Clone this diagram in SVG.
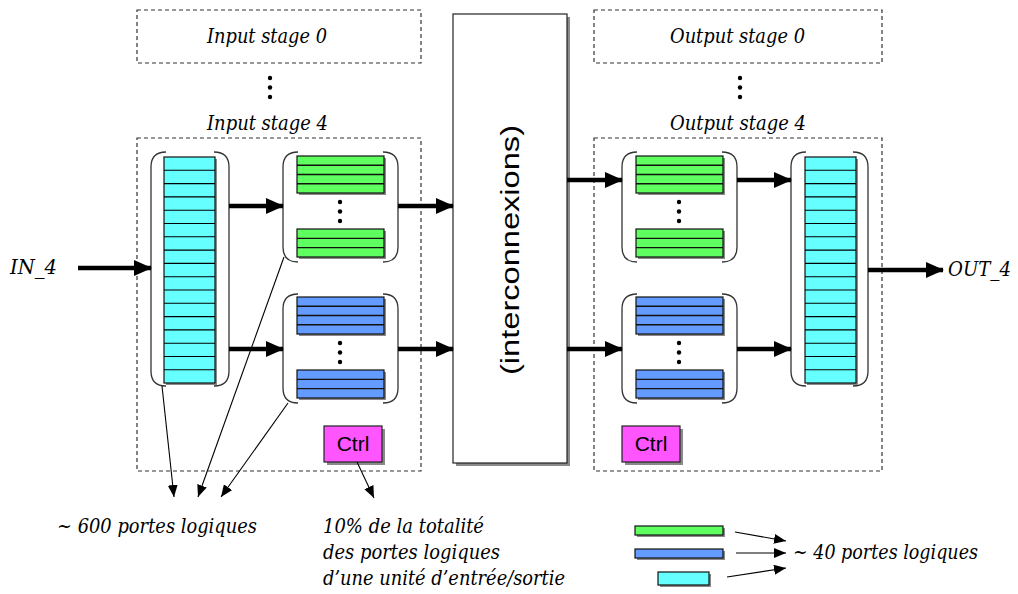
<svg xmlns="http://www.w3.org/2000/svg" width="1018" height="594" viewBox="0 0 1018 594">
<style>
.dash{fill:none;stroke:#333;stroke-width:1.2;stroke-dasharray:4,3}
.lbl{font-family:'DejaVu Serif',serif;font-size:20px;fill:#000;font-style:italic}
.br{fill:none;stroke:#333;stroke-width:1.3}
.cy{fill:#66ffff;stroke:#111;stroke-width:1.2}
.gr{fill:#5fff5f;stroke:#111;stroke-width:1.2}
.bl{fill:#649bff;stroke:#111;stroke-width:1.2}
.sh{fill:#8a8a8a}
.thick{stroke:#000;stroke-width:4.5;fill:none}
.thin{stroke:#000;stroke-width:1.1;fill:none}
.ctrl{fill:#ff55ff;stroke:#222;stroke-width:1.2}
.ct{font-family:'Liberation Sans',Arial,sans-serif;font-size:21px;fill:#000;text-anchor:middle}
.dot{fill:#000}
</style>
<defs>
<marker id="big" markerUnits="userSpaceOnUse" markerWidth="18" markerHeight="16" refX="17" refY="8" orient="auto"><path d="M0,0 L18,8 L0,16 Z" fill="#000"/></marker>
<marker id="sm" markerUnits="userSpaceOnUse" markerWidth="12" markerHeight="10" refX="12" refY="5" orient="auto"><path d="M0,0 L12,5 L0,10 Z" fill="#000"/></marker>
<g id="cystack">
<rect class="sh" x="2" y="2" width="51" height="226"/>
<rect class="cy" x="0" y="0" width="51" height="226"/>
<path class="thin" d="M0,13.3H51M0,26.6H51M0,39.9H51M0,53.2H51M0,66.5H51M0,79.8H51M0,93.1H51M0,106.4H51M0,119.7H51M0,133H51M0,146.3H51M0,159.6H51M0,172.9H51M0,186.2H51M0,199.5H51M0,212.8H51" stroke-width="1.4"/>
</g>
<g id="four">
<rect class="sh" x="2" y="2" width="87" height="37"/>
<rect x="0" y="0" width="87" height="37" stroke="#111" stroke-width="1.2"/>
<path d="M0,9.25H87M0,18.5H87M0,27.75H87" stroke="#111" stroke-width="1.4"/>
</g>
<g id="three">
<rect class="sh" x="2" y="2" width="87" height="28"/>
<rect x="0" y="0" width="87" height="28" stroke="#111" stroke-width="1.2"/>
<path d="M0,9.33H87M0,18.67H87" stroke="#111" stroke-width="1.4"/>
</g>
<g id="dots3"><circle cx="0" cy="0" r="2.2"/><circle cx="0" cy="9.5" r="2.2"/><circle cx="0" cy="19" r="2.2"/></g>
</defs>
<rect width="1018" height="594" fill="#fff"/>

<g id="input-stage-0">
<rect class="dash" x="137" y="10" width="284" height="53"/>
<text class="lbl" x="207" y="43" textLength="120" lengthAdjust="spacingAndGlyphs">Input stage 0</text>
</g>
<g id="input-dots" class="dot"><use href="#dots3" x="270" y="78"/></g>
<g id="input-stage-4">
<text class="lbl" x="207" y="130" textLength="121" lengthAdjust="spacingAndGlyphs">Input stage 4</text>
<rect class="dash" x="137" y="138" width="284" height="333"/>
</g>
<g id="in-cyan">
<path class="br" d="M166,152Q151,152 151,167V371Q151,386 166,386M214,152Q229,152 229,167V371Q229,386 214,386"/>
<use href="#cystack" x="164" y="157"/>
</g>
<g id="in-green" fill="#5fff5f">
<path class="br" d="M298,152Q283,152 283,167V247Q283,262 298,262M383,152Q398,152 398,167V247Q398,262 383,262"/>
<use href="#four" x="297" y="156"/>
<use href="#three" x="297" y="229"/>
<use href="#dots3" x="340" y="202" fill="#000"/>
</g>
<g id="in-blue" fill="#649bff">
<path class="br" d="M298,294Q283,294 283,309V388Q283,403 298,403M383,294Q398,294 398,309V388Q398,403 383,403"/>
<use href="#four" x="297" y="297"/>
<use href="#three" x="297" y="370"/>
<use href="#dots3" x="340" y="343" fill="#000"/>
</g>
<g id="in-ctrl">
<rect class="sh" x="327" y="429" width="58" height="36"/>
<rect class="ctrl" x="324" y="426" width="58" height="36"/>
<text class="ct" x="353" y="451">Ctrl</text>
</g>

<g id="interconnexions">
<rect class="sh" x="456" y="17" width="114" height="449"/>
<rect x="453" y="14" width="114" height="449" fill="#fff" stroke="#222" stroke-width="1.2"/>
<text transform="translate(519,250) rotate(-90)" font-family="'Liberation Sans',Arial,sans-serif" font-size="26" text-anchor="middle" textLength="250" lengthAdjust="spacingAndGlyphs">(interconnexions)</text>
</g>

<g id="output-stage-0">
<rect class="dash" x="594" y="10" width="288" height="53"/>
<text class="lbl" x="670" y="43" textLength="135" lengthAdjust="spacingAndGlyphs">Output stage 0</text>
</g>
<g id="output-dots" class="dot"><use href="#dots3" x="740" y="78"/></g>
<g id="output-stage-4">
<text class="lbl" x="670" y="130" textLength="136" lengthAdjust="spacingAndGlyphs">Output stage 4</text>
<rect class="dash" x="594" y="138" width="288" height="333"/>
</g>
<g id="out-green" fill="#5fff5f">
<path class="br" d="M637,152Q622,152 622,167V247Q622,262 637,262M722,152Q737,152 737,167V247Q737,262 722,262"/>
<use href="#four" x="636" y="156"/>
<use href="#three" x="636" y="229"/>
<use href="#dots3" x="679" y="202" fill="#000"/>
</g>
<g id="out-blue" fill="#649bff">
<path class="br" d="M637,294Q622,294 622,309V388Q622,403 637,403M722,294Q737,294 737,309V388Q737,403 722,403"/>
<use href="#four" x="636" y="297"/>
<use href="#three" x="636" y="370"/>
<use href="#dots3" x="679" y="343" fill="#000"/>
</g>
<g id="out-cyan">
<path class="br" d="M806,152Q791,152 791,167V371Q791,386 806,386M853,152Q868,152 868,167V371Q868,386 853,386"/>
<use href="#cystack" x="805" y="157"/>
</g>
<g id="out-ctrl">
<rect class="sh" x="625" y="429" width="58" height="36"/>
<rect class="ctrl" x="622" y="426" width="58" height="36"/>
<text class="ct" x="651" y="451">Ctrl</text>
</g>

<g id="connectors">
<line class="thick" x1="78" y1="268" x2="151" y2="268" marker-end="url(#big)"/>
<line class="thick" x1="229" y1="206" x2="283" y2="206" marker-end="url(#big)"/>
<line class="thick" x1="229" y1="349" x2="283" y2="349" marker-end="url(#big)"/>
<line class="thick" x1="398" y1="206" x2="453" y2="206" marker-end="url(#big)"/>
<line class="thick" x1="398" y1="349" x2="453" y2="349" marker-end="url(#big)"/>
<line class="thick" x1="567" y1="180" x2="622" y2="180" marker-end="url(#big)"/>
<line class="thick" x1="567" y1="349" x2="622" y2="349" marker-end="url(#big)"/>
<line class="thick" x1="737" y1="180" x2="791" y2="180" marker-end="url(#big)"/>
<line class="thick" x1="737" y1="349" x2="791" y2="349" marker-end="url(#big)"/>
<line class="thick" x1="868" y1="270" x2="943" y2="270" marker-end="url(#big)"/>
<line class="thin" x1="162" y1="386" x2="174" y2="497" marker-end="url(#sm)"/>
<line class="thin" x1="284" y1="257" x2="198" y2="497" marker-end="url(#sm)"/>
<line class="thin" x1="288" y1="403" x2="221" y2="497" marker-end="url(#sm)"/>
<line class="thin" x1="357" y1="462" x2="374" y2="498" marker-end="url(#sm)"/>
<line class="thin" x1="735" y1="532" x2="786" y2="541" marker-end="url(#sm)"/>
<line class="thin" x1="736" y1="553" x2="786" y2="553" marker-end="url(#sm)"/>
<line class="thin" x1="727" y1="577" x2="786" y2="568" marker-end="url(#sm)"/>
</g>

<g id="labels">
<text class="lbl" x="10" y="274" textLength="47" lengthAdjust="spacingAndGlyphs">IN_4</text>
<text class="lbl" x="948" y="276" textLength="63" lengthAdjust="spacingAndGlyphs">OUT_4</text>
<text class="lbl" x="57" y="533" textLength="200" lengthAdjust="spacingAndGlyphs">~ 600 portes logiques</text>
<text class="lbl" x="323" y="533" textLength="161" lengthAdjust="spacingAndGlyphs">10% de la totalité</text>
<text class="lbl" x="323" y="559" textLength="177" lengthAdjust="spacingAndGlyphs">des portes logiques</text>
<text class="lbl" x="323" y="585" textLength="242" lengthAdjust="spacingAndGlyphs">d’une unité d’entrée/sortie</text>
<text class="lbl" x="793" y="559" textLength="185" lengthAdjust="spacingAndGlyphs">~ 40 portes logiques</text>
</g>

<g id="legend">
<rect class="sh" x="637" y="528" width="88" height="9"/>
<rect class="gr" x="635" y="526" width="88" height="9"/>
<rect class="sh" x="637" y="551" width="88" height="9"/>
<rect class="bl" x="635" y="549" width="88" height="9"/>
<rect class="sh" x="660" y="574" width="51" height="13"/>
<rect class="cy" x="658" y="572" width="51" height="13"/>
</g>
</svg>
